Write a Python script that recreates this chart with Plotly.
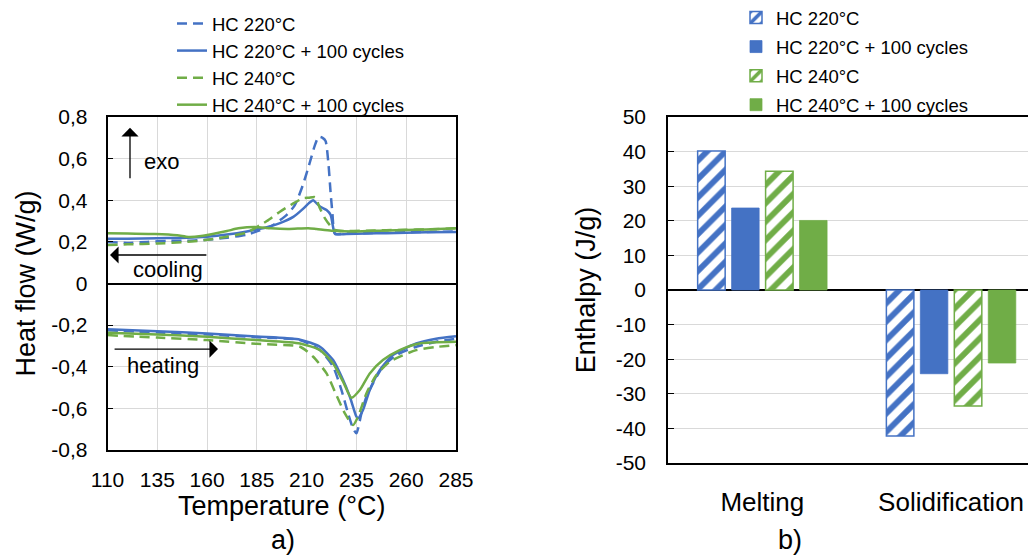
import plotly.graph_objects as go

# ---------------- Panel a) DSC curves ----------------
series_names = ["HC 220°C", "HC 220°C + 100 cycles", "HC 240°C", "HC 240°C + 100 cycles"]

# cooling (exothermic, positive)
t_cool_hc220 = [110, 120, 130, 140, 150, 160, 170, 180, 186.5, 193, 200, 204, 208, 211.7, 214, 216, 218, 219.5, 221, 222, 223, 223.7, 224.5, 230, 240, 250, 260, 270, 285]
hf_cool_hc220 = [0.20, 0.195, 0.20, 0.205, 0.205, 0.21, 0.22, 0.235, 0.255, 0.28, 0.33, 0.375, 0.47, 0.585, 0.66, 0.705, 0.70, 0.685, 0.57, 0.44, 0.33, 0.25, 0.238, 0.24, 0.242, 0.244, 0.246, 0.248, 0.25]

t_cool_hc220_100 = [110, 120, 135, 150, 160, 170, 180, 190, 196.6, 203.3, 208.3, 211, 213.3, 215, 216.7, 220, 222, 223.4, 224.2, 230, 240, 250, 260, 270, 285]
hf_cool_hc220_100 = [0.215, 0.215, 0.218, 0.22, 0.225, 0.235, 0.25, 0.27, 0.29, 0.32, 0.36, 0.385, 0.40, 0.385, 0.37, 0.353, 0.33, 0.265, 0.238, 0.238, 0.24, 0.242, 0.244, 0.246, 0.248]

t_cool_hc240 = [110, 120, 135, 150, 160, 170, 180, 186.5, 190, 196.6, 203.3, 208.3, 211, 214.2, 216.7, 219.2, 221.7, 224.2, 230, 240, 250, 260, 270, 285]
hf_cool_hc240 = [0.185, 0.188, 0.192, 0.20, 0.21, 0.225, 0.245, 0.28, 0.30, 0.345, 0.385, 0.41, 0.412, 0.415, 0.36, 0.313, 0.28, 0.257, 0.252, 0.254, 0.256, 0.258, 0.26, 0.265]

t_cool_hc240_100 = [110, 120, 133.8, 145, 150.6, 157, 164, 170, 175.7, 184, 192, 200.8, 210.8, 215, 222.5, 234, 250, 270, 285]
hf_cool_hc240_100 = [0.242, 0.24, 0.238, 0.232, 0.224, 0.228, 0.24, 0.252, 0.265, 0.272, 0.265, 0.262, 0.266, 0.262, 0.254, 0.25, 0.255, 0.26, 0.265]

# heating (endothermic, negative)
t_heat_hc220 = [110, 135, 160, 185, 206.7, 216.7, 223.3, 227.5, 230.8, 233.3, 235, 237.5, 240, 243.3, 248.3, 255, 265, 275, 285]
hf_heat_hc220 = [-0.225, -0.235, -0.245, -0.258, -0.272, -0.32, -0.40, -0.512, -0.624, -0.696, -0.72, -0.624, -0.544, -0.48, -0.40, -0.344, -0.304, -0.28, -0.265]

t_heat_hc220_100 = [110, 135, 160, 185, 206.7, 216.7, 223.3, 228.3, 231.7, 235, 235.8, 238.3, 241.7, 246.7, 253.3, 265, 275, 285]
hf_heat_hc220_100 = [-0.22, -0.23, -0.24, -0.255, -0.27, -0.304, -0.368, -0.464, -0.544, -0.64, -0.648, -0.608, -0.512, -0.416, -0.344, -0.288, -0.265, -0.253]

t_heat_hc240 = [110, 135, 160, 185, 206.7, 213.3, 220, 224.2, 229.2, 233.3, 235.8, 240, 245, 251.7, 265, 275, 285]
hf_heat_hc240 = [-0.248, -0.26, -0.272, -0.29, -0.304, -0.352, -0.432, -0.52, -0.624, -0.68, -0.64, -0.528, -0.44, -0.376, -0.32, -0.305, -0.296]

t_heat_hc240_100 = [110, 135, 160, 185, 206.7, 216.7, 223.3, 228.3, 232.5, 236.7, 241.7, 248.3, 256.7, 266.7, 285]
hf_heat_hc240_100 = [-0.237, -0.245, -0.256, -0.272, -0.288, -0.32, -0.384, -0.472, -0.549, -0.512, -0.432, -0.368, -0.32, -0.288, -0.28]

xticks_a = [110, 135, 160, 185, 210, 235, 260, 285]
yticks_a = [-0.8, -0.6, -0.4, -0.2, 0, 0.2, 0.4, 0.6, 0.8]
yticktext_a = ["-0,8", "-0,6", "-0,4", "-0,2", "0", "0,2", "0,4", "0,6", "0,8"]

# ---------------- Panel b) Enthalpy ----------------
categories = ["Melting", "Solidification"]
enth_hc220 = [40.2, -42.2]
enth_hc220_100 = [23.7, -24.2]
enth_hc240 = [34.3, -33.5]
enth_hc240_100 = [20.1, -21.1]

yticks_b = [-50, -40, -30, -20, -10, 0, 10, 20, 30, 40, 50]
yticktext_b = ["-50", "-40", "-30", "-20", "-10", "0", "10", "20", "30", "40", "50"]

BLUE = "#4472C4"
GREEN = "#70AD47"
GRID = "#d9d9d9"
FONT = "Liberation Sans, Arial, sans-serif"

# figure is drawn at an 8px page offset, so it is 1028 x 548 px
W, H = 1028, 548

fig = go.Figure()

curves = [
    (series_names[0], t_cool_hc220, hf_cool_hc220, t_heat_hc220, hf_heat_hc220, BLUE, "10px,6px"),
    (series_names[1], t_cool_hc220_100, hf_cool_hc220_100, t_heat_hc220_100, hf_heat_hc220_100, BLUE, "solid"),
    (series_names[2], t_cool_hc240, hf_cool_hc240, t_heat_hc240, hf_heat_hc240, GREEN, "10px,6px"),
    (series_names[3], t_cool_hc240_100, hf_cool_hc240_100, t_heat_hc240_100, hf_heat_hc240_100, GREEN, "solid"),
]
for name, tc, hc, th, hh, col, dash in curves:
    fig.add_trace(go.Scatter(
        x=list(tc) + [None] + list(th),
        y=list(hc) + [None] + list(hh),
        mode="lines", name=name, connectgaps=False,
        line=dict(color=col, width=2.5, dash=dash, shape="spline", smoothing=0.6),
        xaxis="x", yaxis="y", legend="legend",
    ))

bars = [
    (series_names[0], enth_hc220, BLUE, True),
    (series_names[1], enth_hc220_100, BLUE, False),
    (series_names[2], enth_hc240, GREEN, True),
    (series_names[3], enth_hc240_100, GREEN, False),
]
for i, (name, vals, col, hatched) in enumerate(bars):
    if hatched:
        marker = dict(color="white", line=dict(color=col, width=1.5),
                      pattern=dict(shape="/", fgcolor=col, bgcolor="white", size=13,
                                   solidity=0.45, fgopacity=1))
    else:
        marker = dict(color=col, line=dict(color=col, width=0.75))
    fig.add_trace(go.Bar(
        x=categories, y=vals, name=name, marker=marker,
        xaxis="x2", yaxis="y2", legend="legend2", legendgroup="g%d" % i,
    ))

fig.update_layout(
    width=W, height=H,
    margin=dict(l=0, r=0, t=0, b=0, autoexpand=False),
    paper_bgcolor="white", plot_bgcolor="white",
    font=dict(family=FONT, color="black", size=20),
    barmode="group", bargap=0.28, bargroupgap=0.19,
    showlegend=True,
    xaxis=dict(
        domain=[99.5 / W, 448 / W], anchor="y", range=[110, 285],
        tickmode="array", tickvals=xticks_a,
        showgrid=True, gridcolor=GRID, gridwidth=1,
        showline=True, linecolor="black", linewidth=1.5, mirror=True,
        zeroline=False, ticks="", tickfont=dict(size=21), ticklabelstandoff=10,
        title=dict(text="Temperature (°C)", font=dict(size=27), standoff=2),
    ),
    yaxis=dict(
        domain=[1 - 442 / H, 1 - 109 / H], anchor="x", range=[-0.8, 0.8],
        tickmode="array", tickvals=yticks_a, ticktext=yticktext_a,
        showgrid=True, gridcolor=GRID, gridwidth=1,
        zeroline=True, zerolinecolor="black", zerolinewidth=1.5,
        showline=True, linecolor="black", linewidth=1.5, mirror=True,
        ticks="inside", ticklen=6, tickcolor="black", ticklabelstandoff=14,
        tickfont=dict(size=21),
        title=dict(text="Heat flow (W/g)", font=dict(size=27), standoff=8),
    ),
    xaxis2=dict(
        domain=[660 / W, 1.0], anchor="y2", type="category", range=[-0.5, 1.45],
        showgrid=False, showline=True, linecolor="black", linewidth=1.5, mirror=True,
        zeroline=False, ticks="", tickfont=dict(size=26), ticklabelstandoff=15,
    ),
    yaxis2=dict(
        domain=[1 - 455 / H, 1 - 109 / H], anchor="x2", range=[-50, 50],
        tickmode="array", tickvals=yticks_b, ticktext=yticktext_b,
        showgrid=True, gridcolor=GRID, gridwidth=1,
        zeroline=True, zerolinecolor="black", zerolinewidth=1.5,
        showline=True, linecolor="black", linewidth=1.5,
        ticks="inside", ticklen=6, tickcolor="black", ticklabelstandoff=16,
        tickfont=dict(size=21),
        title=dict(text="Enthalpy (J/g)", font=dict(size=27), standoff=12),
    ),
    legend=dict(
        x=164 / W, xanchor="left", y=1 + 3 / H, yanchor="top",
        font=dict(size=18.5), bgcolor="rgba(0,0,0,0)", tracegroupgap=0,
    ),
    legend2=dict(
        x=728 / W, xanchor="left", y=1 + 9 / H, yanchor="top",
        font=dict(size=18.5), bgcolor="rgba(0,0,0,0)", tracegroupgap=2,
    ),
)

# arrows and labels in panel a)
ann = []
ann.append(dict(x=121.3, y=0.748, ax=121.3, ay=0.498, xref="x", yref="y", axref="x", ayref="y",
                text="", showarrow=True, arrowhead=1, arrowsize=2.2, arrowwidth=1.3, arrowcolor="black"))
ann.append(dict(x=127.3, y=0.584, xref="x", yref="y", text="exo", showarrow=False,
                xanchor="left", yanchor="middle", font=dict(size=22)))
ann.append(dict(x=111.25, y=0.137, ax=160.4, ay=0.137, xref="x", yref="y", axref="x", ayref="y",
                text="", showarrow=True, arrowhead=1, arrowsize=2.2, arrowwidth=1.3, arrowcolor="black"))
ann.append(dict(x=121.8, y=0.065, xref="x", yref="y", text="cooling", showarrow=False,
                xanchor="left", yanchor="middle", font=dict(size=22)))
ann.append(dict(x=165.5, y=-0.315, ax=112.8, ay=-0.315, xref="x", yref="y", axref="x", ayref="y",
                text="", showarrow=True, arrowhead=1, arrowsize=2.2, arrowwidth=1.3, arrowcolor="black"))
ann.append(dict(x=118.8, y=-0.392, xref="x", yref="y", text="heating", showarrow=False,
                xanchor="left", yanchor="middle", font=dict(size=22)))
ann.append(dict(x=275 / W, y=0, xref="paper", yref="paper", text="a)", showarrow=False,
                xanchor="center", yanchor="bottom", borderpad=0, font=dict(size=27)))
ann.append(dict(x=782 / W, y=0, xref="paper", yref="paper", text="b)", showarrow=False,
                xanchor="center", yanchor="bottom", borderpad=0, font=dict(size=27)))
fig.update_layout(annotations=ann)

fig.write_html("out.html")
